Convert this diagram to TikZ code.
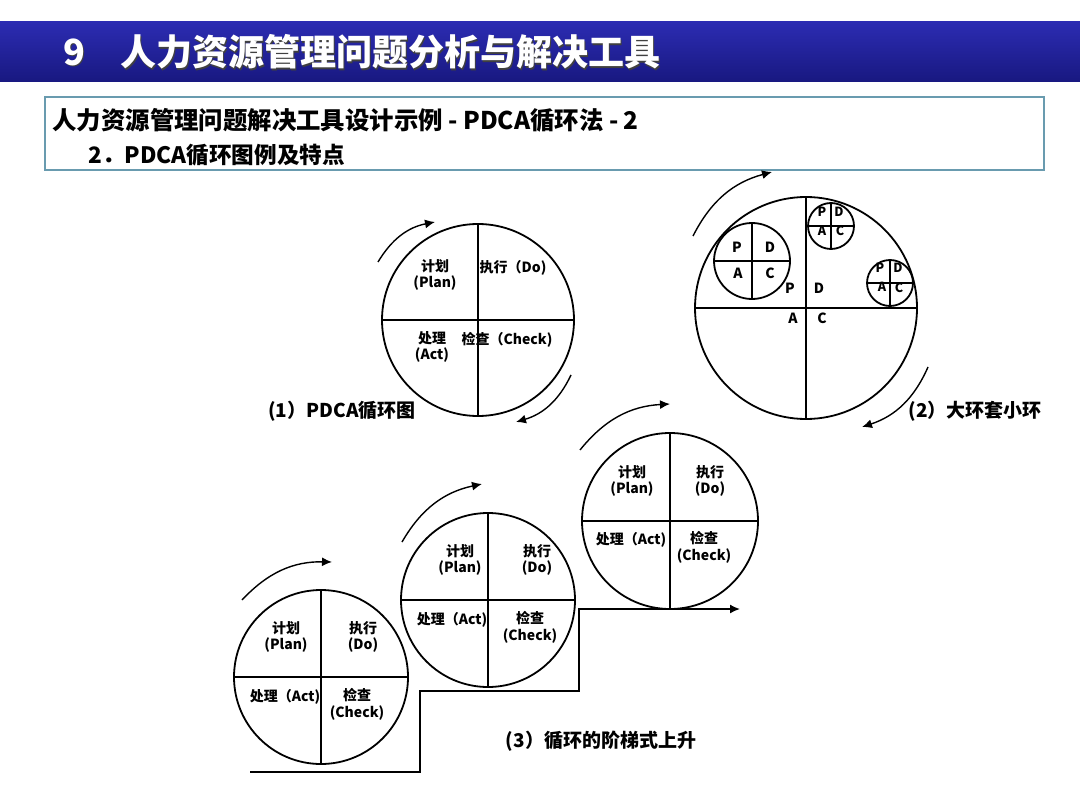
\documentclass[tikz,border=0pt]{standalone}
\usepackage{fontspec}
\newfontfamily\cjk{Noto Sans CJK SC}
\usetikzlibrary{arrows.meta,calc}
\definecolor{bartop}{RGB}{44,44,178}
\definecolor{barbottom}{RGB}{24,24,128}
\definecolor{framecol}{RGB}{105,155,175}

\begin{document}
\begin{tikzpicture}[
  x=0.5pt, y=0.5pt,
  titlebar/.style={rectangle, inner sep=0pt, top color=bartop, bottom color=barbottom,
                   minimum width=540pt, minimum height=30pt},
  titletext/.style={anchor=west, inner sep=0pt, text=white,
                    font=\cjk\bfseries\fontsize{18}{20}\selectfont},
  titleshadow/.style={titletext, text=black!75},
  hdrbox/.style={draw=framecol, line width=0.6pt, inner sep=0pt,
                 minimum width=499.5pt, minimum height=36.5pt},
  hdrtext/.style={anchor=west, inner sep=0pt, font=\cjk\bfseries\fontsize{11.3}{13}\selectfont},
  ring/.style={draw, circle, line width=0.9pt, inner sep=0pt, outer sep=0pt},
  quarter/.style={line width=0.8pt},
  qlabel/.style={align=center, inner sep=1pt, font=\cjk\bfseries\fontsize{7}{8.4}\selectfont},
  letter/.style={inner sep=0pt, font=\cjk\bfseries\fontsize{7}{8}\selectfont},
  tiny letter/.style={letter, font=\cjk\bfseries\fontsize{6.3}{7}\selectfont},
  caption/.style={inner sep=0pt, font=\cjk\bfseries\fontsize{9.5}{11}\selectfont},
  cyc/.style={-{Latex[length=5pt,width=4.5pt]}, line width=0.7pt, bend left=24},
  stair/.style={line width=0.8pt}
]
\useasboundingbox (0,0) rectangle (1080,810);

% title bar
\node[titlebar] (bar) at (540,758) {};
\node[titleshadow] (numsh) at (64.5,756.5) {9};
\node[titletext] (num) at (63,758) {9};
\node[titleshadow] (ttlsh) at (121.5,756.5) {人力资源管理问题分析与解决工具};
\node[titletext] (ttl) at (120,758) {人力资源管理问题分析与解决工具};

% header box
\node[hdrbox] (hdr) at (544.5,676.5) {};
\node[hdrtext, font=\cjk\bfseries\fontsize{12.2}{14}\selectfont] (hdr1) at (52,690)
  {人力资源管理问题解决工具设计示例 - PDCA循环法 - 2};
\node[hdrtext] (hdr2) at (88,655) {2．PDCA循环图例及特点};

% (1) PDCA cycle
\node[ring, minimum size=96pt] (c1) at (478,490) {};
\draw[quarter] (c1.north) -- (c1.south);
\draw[quarter] (c1.west) -- (c1.east);
\node[qlabel] (c1p) at ($(c1)+(-43,45)$) {计划\\(Plan)};
\node[qlabel] (c1d) at ($(c1)+(35,52)$) {执行（Do)};
\node[qlabel] (c1a) at ($(c1)+(-46,-27)$) {处理\\(Act)};
\node[qlabel] (c1c) at ($(c1)+(29,-20)$) {检查（Check)};
\coordinate (c1s) at ($(c1)+(-100,58)$);
\coordinate (c1e) at ($(c1)+(-43,98)$);
\coordinate (c1s2) at ($(c1)+(93,-55)$);
\coordinate (c1e2) at ($(c1)+(38,-102)$);
\draw[cyc] (c1s) to (c1e);
\draw[cyc] (c1s2) to (c1e2);
\node[caption] (cap1) at (342,399) {(1）PDCA循环图};

% (2) big ring with small rings
\node[ring, minimum size=111pt] (c2) at (806,502) {};
\draw[quarter] (c2.north) -- (c2.south);
\draw[quarter] (c2.west) -- (c2.east);
\node[letter] (c2p) at ($(c2)+(-16,20)$) {P};
\node[letter] (c2d) at ($(c2)+(13,20)$) {D};
\node[letter] (c2a) at ($(c2)+(-13,-10)$) {A};
\node[letter] (c2c) at ($(c2)+(16,-10)$) {C};

\node[ring, minimum size=38pt] (sa) at (752,549) {};
\draw[quarter] (sa.north) -- (sa.south);
\draw[quarter] (sa.west) -- (sa.east);
\node[letter] (sap) at ($(sa)+(-15,14)$) {P};
\node[letter] (sad) at ($(sa)+(18,14)$) {D};
\node[letter] (saa) at ($(sa)+(-14,-12)$) {A};
\node[letter] (sac) at ($(sa)+(18,-12)$) {C};

\node[ring, minimum size=23pt] (sb) at (831,584) {};
\draw[quarter] (sb.north) -- (sb.south);
\draw[quarter] (sb.west) -- (sb.east);
\node[tiny letter] (sbp) at ($(sb)+(-9,14)$) {P};
\node[tiny letter] (sbd) at ($(sb)+(8,14)$) {D};
\node[tiny letter] (sba) at ($(sb)+(-9,-5)$) {A};
\node[tiny letter] (sbc) at ($(sb)+(9,-5)$) {C};

\node[ring, minimum size=23pt] (sc) at (890,527) {};
\draw[quarter] (sc.north) -- (sc.south);
\draw[quarter] (sc.west) -- (sc.east);
\node[tiny letter] (scp) at ($(sc)+(-10,15)$) {P};
\node[tiny letter] (scd) at ($(sc)+(8,15)$) {D};
\node[tiny letter] (sca) at ($(sc)+(-8,-4)$) {A};
\node[tiny letter] (scc) at ($(sc)+(9,-5)$) {C};

\coordinate (c2s) at ($(c2)+(-113,72)$);
\coordinate (c2e) at ($(c2)+(-34,136)$);
\coordinate (c2s2) at ($(c2)+(122,-59)$);
\coordinate (c2e2) at ($(c2)+(56,-119)$);
\draw[cyc] (c2s) to (c2e);
\draw[cyc] (c2s2) to (c2e2);
\node[caption] (cap2) at (975,399) {(2）大环套小环};

% (3) stairs
\node[ring, minimum size=87pt] (s1) at (321,133) {};
\draw[quarter] (s1.north) -- (s1.south);
\draw[quarter] (s1.west) -- (s1.east);
\node[qlabel] (s1p) at ($(s1)+(-35,40)$) {计划\\(Plan)};
\node[qlabel] (s1d) at ($(s1)+(42,40)$) {执行\\(Do)};
\node[qlabel] (s1a) at ($(s1)+(-36,-20)$) {处理（Act)};
\node[qlabel] (s1c) at ($(s1)+(36,-27)$) {检查\\(Check)};

\node[ring, minimum size=87pt] (s2) at (488,210) {};
\draw[quarter] (s2.north) -- (s2.south);
\draw[quarter] (s2.west) -- (s2.east);
\node[qlabel] (s2p) at ($(s2)+(-28,40)$) {计划\\(Plan)};
\node[qlabel] (s2d) at ($(s2)+(49,40)$) {执行\\(Do)};
\node[qlabel] (s2a) at ($(s2)+(-36,-20)$) {处理（Act)};
\node[qlabel] (s2c) at ($(s2)+(42,-27)$) {检查\\(Check)};

\node[ring, minimum size=88pt] (s3) at (670,289) {};
\draw[quarter] (s3.north) -- (s3.south);
\draw[quarter] (s3.west) -- (s3.east);
\node[qlabel] (s3p) at ($(s3)+(-38,40)$) {计划\\(Plan)};
\node[qlabel] (s3d) at ($(s3)+(40,40)$) {执行\\(Do)};
\node[qlabel] (s3a) at ($(s3)+(-39,-19)$) {处理（Act)};
\node[qlabel] (s3c) at ($(s3)+(34,-26)$) {检查\\(Check)};

\coordinate (st0) at (250,38);
\coordinate (st1) at (420,119);
\coordinate (st2) at (579,201);
\coordinate (st3) at (740,201);
\draw[stair, -{Latex[length=5pt,width=4.5pt]}] (st0) -| (st1) -| (st2) -- (st3);

\coordinate (s1s) at ($(s1)+(-79,77)$);
\coordinate (s1e) at ($(s1)+(11,115)$);
\coordinate (s2s) at ($(s2)+(-86,58)$);
\coordinate (s2e) at ($(s2)+(-6,116)$);
\coordinate (s3s) at ($(s3)+(-90,71)$);
\coordinate (s3e) at ($(s3)+(0,117)$);
\draw[cyc] (s1s) to (s1e);
\draw[cyc] (s2s) to (s2e);
\draw[cyc] (s3s) to (s3e);
\node[caption] (cap3) at (601,69) {(3）循环的阶梯式上升};
\end{tikzpicture}
\end{document}
